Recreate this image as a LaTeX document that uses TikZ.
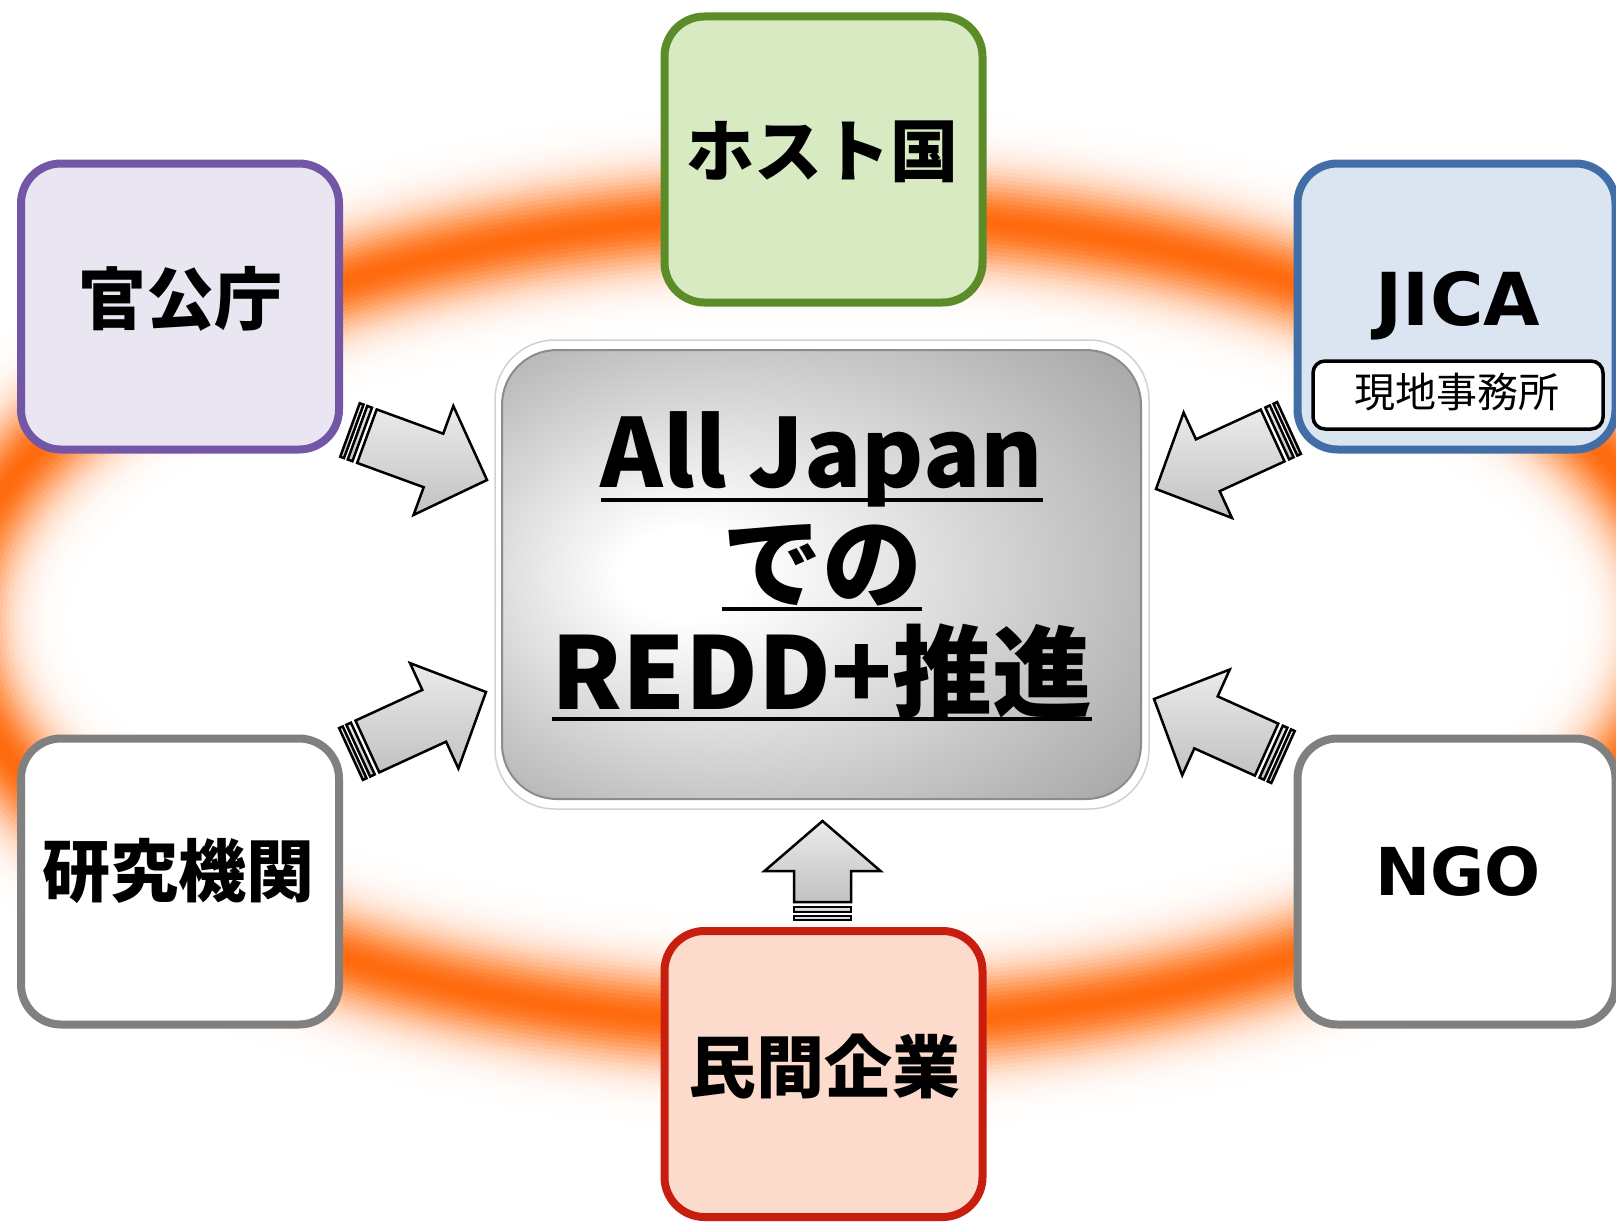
\documentclass[tikz,border=0pt]{standalone}
\usepackage{fontspec}
\newfontfamily\jpfont{Noto Sans CJK JP}
\newfontfamily\latfont{DejaVu Sans}
\usetikzlibrary{calc}
\definecolor{ringor}{RGB}{255,106,12}
\definecolor{purpB}{RGB}{115,87,166}
\definecolor{purpF}{RGB}{233,230,242}
\definecolor{greenB}{RGB}{92,139,42}
\definecolor{greenF}{RGB}{215,234,193}
\definecolor{blueB}{RGB}{66,110,168}
\definecolor{blueF}{RGB}{219,228,241}
\definecolor{grayB}{RGB}{128,128,128}
\definecolor{redB}{RGB}{200,30,16}
\definecolor{redF}{RGB}{252,219,205}
\pgfdeclareradialshading{centerglow}{\pgfpoint{-12bp}{0bp}}{color(0bp)=(white);color(5bp)=(white);color(40bp)=(black!38);color(50bp)=(black!38)}
\tikzset{
  orgbox/.style={draw, line width=8pt, rounded corners=40pt, minimum width=318pt, minimum height=286pt, inner sep=0pt},
  jplabel/.style={font=\jpfont\bfseries\fontsize{68}{80}\selectfont, inner sep=0pt, anchor=base},
  latlabel/.style={font=\latfont\bfseries\fontsize{73}{85}\selectfont, inner sep=0pt, anchor=base},
  ctext/.style={font=\jpfont\bfseries\fontsize{100}{110}\selectfont, inner sep=0pt, anchor=base},
  uline/.style={line width=4pt},
  arrowpart/.style={draw=black, line width=2.5pt, line join=miter, top color=black!8, bottom color=black!24},
}
\newcommand\blockarrow[3]{%
  \pgfpointanchor{#1}{center}\pgfgetlastxy{\blkax}{\blkay}%
  \pgfpointanchor{#2}{center}\pgfgetlastxy{\blkbx}{\blkby}%
  \pgfmathsetmacro\blklen{veclen(\blkbx-\blkax,\blkby-\blkay)}%
  \pgfmathsetmacro\blkang{atan2(\blkby-\blkay,\blkbx-\blkax)}%
  \pgfmathsetmacro\blkbase{\blklen-#3}%
  \begin{scope}[shift={(#1)}, rotate=\blkang, x=1pt, y=1pt]
    \draw[arrowpart] (0,-28.5) rectangle (4,28.5);
    \draw[arrowpart] (8,-28.5) rectangle (13,28.5);
    \draw[arrowpart] (18,-28.5) -- (\blkbase,-28.5) -- (\blkbase,-58) -- (\blklen,0) -- (\blkbase,58) -- (\blkbase,28.5) -- (18,28.5) -- cycle;
  \end{scope}}
\begin{document}
\begin{tikzpicture}[x=1pt, y=-1pt]
\clip (0,0) rectangle (1616,1223);
\fill[white] (0,0) rectangle (1616,1223);
% glowing ring (gaussian profile)
\foreach \d in {108,104,...,4}{
  \pgfmathsetmacro\rw{2*\d}
  \pgfmathsetmacro\rc{100*exp(-(\d*\d)/(2*33*33))}
  \draw[line width=\rw pt, ringor!\rc!white] (818,620) ellipse [x radius=860, y radius=405];
}
% outer boxes
\node[orgbox, draw=purpB, fill=purpF] (kan) at (180,306.5) {};
\node[orgbox, draw=greenB, fill=greenF] (host) at (823.5,159.5) {};
\node[orgbox, draw=blueB, fill=blueF] (jica) at (1456.5,306.5) {};
\node[orgbox, draw=grayB, fill=white] (ken) at (180,881.5) {};
\node[orgbox, draw=grayB, fill=white] (ngo) at (1456.5,881.5) {};
\node[orgbox, draw=redB, fill=redF] (min) at (823.5,1074) {};
\node[draw=black, line width=3.5pt, rounded corners=12pt, fill=white, minimum width=290pt, minimum height=68pt, inner sep=0pt] (office) at (1458,395) {};
% centre box
\node[draw=black!18, line width=1.5pt, fill=white, rounded corners=60pt, minimum width=654pt, minimum height=469pt] (rim) at (822,574.5) {};
\node[draw=black!45, line width=2pt, shading=centerglow, rounded corners=55pt, minimum width=639pt, minimum height=449pt] (core) at (821.5,574.5) {};
% texts
\node[jplabel] (tkan) at (180,324) {官公庁};
\node[jplabel] (thost) at (822,176) {ホスト国};
\node[jplabel] (tken) at (178,896) {研究機関};
\node[jplabel] (tmin) at (824,1092) {民間企業};
\node[latlabel] (tjica) at (1458,325) {JICA};
\node[latlabel, font=\latfont\bfseries\fontsize{66}{80}\selectfont] (tngo) at (1458,895) {NGO};
\node[font=\jpfont\fontsize{41}{50}\selectfont, inner sep=0pt, anchor=base] (toffice) at (1457,407) {現地事務所};
\node[ctext, font=\jpfont\bfseries\fontsize{95}{110}\selectfont] (t1) at (822,487) {All Japan};
\node[ctext] (t2) at (822,600) {での};
\node[ctext] (t3) at (822,709) {REDD+推進};
\draw[uline] ($(t1.base west)+(0,13)$) -- ($(t1.base east)+(0,13)$);
\draw[uline] ($(t2.base west)+(0,9)$) -- ($(t2.base east)+(0,9)$);
\draw[uline] ($(t3.base west)+(0,10)$) -- ($(t3.base east)+(0,10)$);
% arrows
\coordinate (aTLs) at (350,430); \coordinate (aTLe) at (487,480);
\coordinate (aBLs) at (351,754); \coordinate (aBLe) at (486,692);
\coordinate (aTRs) at (1289,428); \coordinate (aTRe) at (1156,489);
\coordinate (aBRs) at (1283,757); \coordinate (aBRe) at (1154,699);
\coordinate (aBs) at (822.5,920); \coordinate (aBe) at (822.5,821);
\blockarrow{aTLs}{aTLe}{57}
\blockarrow{aBLs}{aBLe}{57}
\blockarrow{aTRs}{aTRe}{57}
\blockarrow{aBRs}{aBRe}{57}
\blockarrow{aBs}{aBe}{50}
\end{tikzpicture}
\end{document}
